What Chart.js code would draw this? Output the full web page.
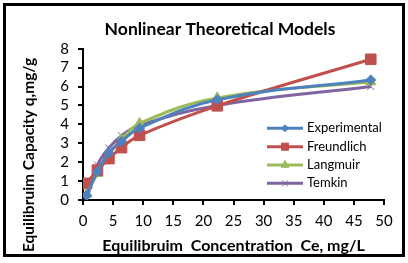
<!DOCTYPE html>
<html>
<head>
<meta charset="utf-8">
<script src="https://cdn.jsdelivr.net/npm/chart.js@4.4.1/dist/chart.umd.min.js"></script>
<style>
  html, body { margin: 0; padding: 0; background: #fff; }
  #wrap { width: 408px; height: 263px; }
</style>
</head>
<body>
<div id="wrap"><canvas id="chart" width="408" height="263"></canvas></div>
<script>
var ce = [0.6, 2.4, 4.3, 6.4, 9.4, 22.3, 47.8];
var experimental = [0.25, 1.5, 2.5, 3.1, 3.8, 5.3, 6.35];
var freundlich = [0.88, 1.58, 2.19, 2.77, 3.42, 4.98, 7.44];
var langmuir = [0.3, 1.4, 2.4, 3.2, 4.05, 5.4, 6.25];
var temkin = [0.0, 1.85, 2.75, 3.4, 3.95, 5.0, 6.0];
var seriesNames = ["Experimental", "Freundlich", "Langmuir", "Temkin"];
var xTicks = [0, 5, 10, 15, 20, 25, 30, 35, 40, 45, 50];
var yTicks = [0, 1, 2, 3, 4, 5, 6, 7, 8];
var chartTitle = "Nonlinear Theoretical Models";
var xTitle = "Equilibruim  Concentration  Ce, mg/L";
var yTitle = "Equilibruim Capacity q,mg/g";

var fontFam = "Lato, 'Open Sans', sans-serif";

function pts(ys) {
  return ce.map((x, i) => ({ x: x, y: ys[i] }));
}

function series(label, ys, color, style, radius, bw) {
  return {
    label: label,
    data: pts(ys),
    borderColor: color,
    backgroundColor: color,
    borderWidth: 3,
    tension: 0.4,
    pointStyle: style,
    pointRadius: radius,
    pointBorderWidth: bw,
    pointBackgroundColor: color,
    pointBorderColor: color,
  };
}

// frame round the whole picture + titles placed like excel does
var framePlugin = {
  id: "frame",
  afterDraw(chart) {
    var ctx = chart.ctx;
    ctx.save();
    ctx.strokeStyle = "#000";
    ctx.lineWidth = 3;
    ctx.strokeRect(4.5, 4.5, 399, 251);

    ctx.fillStyle = "#000";
    ctx.textAlign = "center";
    ctx.textBaseline = "middle";
    ctx.font = "bold 17.5px " + fontFam;
    ctx.fillText(chartTitle, 220, 29);

    // y title is not centred on the plot in the original
    ctx.translate(29, 155);
    ctx.rotate(-Math.PI / 2);
    ctx.font = "bold 15.5px " + fontFam;
    ctx.fillText(yTitle, 0, 0);
    ctx.restore();
  },
};

// legend sits inside the plot, lower right
var legendPlugin = {
  id: "insideLegend",
  afterDraw(chart) {
    var ctx = chart.ctx;
    var x0 = 267, x1 = 303, tx = 307;
    var rowY = [128.3, 146.7, 165, 183.3];
    var radii = [3.5, 5, 4.5, 4];
    ctx.save();
    chart.data.datasets.forEach((ds, i) => {
      var y = rowY[i];
      ctx.strokeStyle = ds.borderColor;
      ctx.lineWidth = 3;
      ctx.beginPath();
      ctx.moveTo(x0, y);
      ctx.lineTo(x1, y);
      ctx.stroke();
      ctx.fillStyle = ds.borderColor;
      ctx.strokeStyle = ds.borderColor;
      ctx.lineWidth = 1;
      Chart.helpers.drawPoint(ctx, { pointStyle: ds.pointStyle, radius: radii[i], borderWidth: 1 }, (x0 + x1) / 2, y);
      ctx.fillStyle = "#000";
      ctx.font = "13px " + fontFam;
      ctx.textBaseline = "middle";
      ctx.fillText(ds.label, tx, y);
    });
    ctx.restore();
  },
};

var config = {
  type: "line",
  data: {
    datasets: [
      series(seriesNames[0], experimental, "#4F81BD", "rectRot", 5, 1),
      series(seriesNames[1], freundlich, "#C0504D", "rect", 7.5, 1),
      series(seriesNames[2], langmuir, "#9BBB59", "triangle", 6, 1),
      series(seriesNames[3], temkin, "#8064A2", "crossRot", 5, 1),
    ],
  },
  options: {
    responsive: false,
    animation: false,
    layout: { padding: { left: 0, right: 24, top: 48.7, bottom: 0 } },
    plugins: {
      legend: { display: false },
      tooltip: { enabled: false },
      title: { display: false },
    },
    scales: {
      x: {
        type: "linear",
        min: 0,
        max: 50,
        afterBuildTicks(scale) {
          scale.ticks = xTicks.map((v) => ({ value: v }));
        },
        afterFit(scale) {
          scale.height = 63;
        },
        grid: { drawOnChartArea: false, drawTicks: true, tickLength: 5, color: "#000", lineWidth: 2 },
        border: { color: "#000", width: 2 },
        ticks: { color: "#000", padding: 7, maxRotation: 0, autoSkip: false, font: { family: fontFam, size: 15 } },
        title: {
          display: true,
          text: xTitle,
          color: "#000",
          font: { family: fontFam, size: 16, weight: "bold" },
          padding: { top: 0, bottom: 8 },
        },
      },
      y: {
        type: "linear",
        min: 0,
        max: 8,
        afterBuildTicks(scale) {
          scale.ticks = yTicks.map((v) => ({ value: v }));
        },
        afterFit(scale) {
          scale.width = 83;
        },
        grid: { drawOnChartArea: false, drawTicks: true, tickLength: 5, color: "#000", lineWidth: 2 },
        border: { color: "#000", width: 2 },
        ticks: { color: "#000", padding: 9, autoSkip: false, font: { family: fontFam, size: 15 } },
      },
    },
  },
  plugins: [framePlugin, legendPlugin],
};

new Chart(document.getElementById("chart"), config);
</script>
</body>
</html>
